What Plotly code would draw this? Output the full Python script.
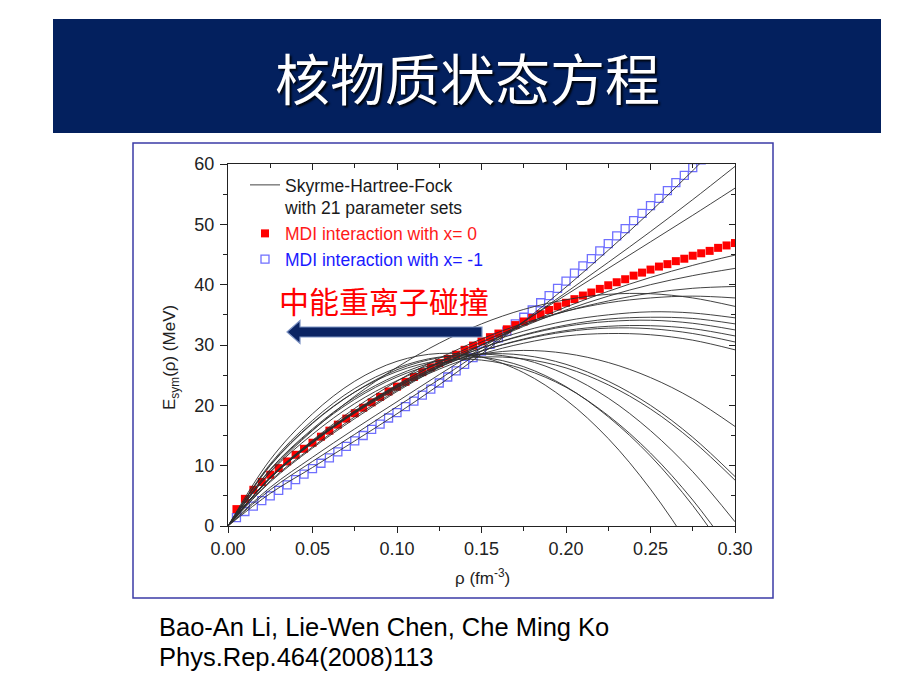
import plotly.graph_objects as go

# ---------------- data ----------------
rho_grid = [0.000, 0.025, 0.050, 0.075, 0.100, 0.125, 0.150, 0.175, 0.200, 0.225, 0.250, 0.275, 0.300]

shf_01 = [0, 5.4, 9.7, 14.1, 18.6, 23.4, 28.5, 33.9, 39.6, 45.7, 52.1, 58.9, 66.0]
shf_02 = [0, 6.0, 10.7, 15.2, 19.8, 24.3, 29.0, 33.8, 38.7, 43.7, 48.8, 54.1, 59.6]
shf_03 = [0, 6.4, 11.4, 16.1, 20.6, 25.1, 29.5, 33.9, 38.3, 42.7, 47.1, 51.5, 56.0]
shf_04 = [0, 7.3, 12.9, 17.8, 22.3, 26.3, 30.0, 33.3, 36.3, 38.9, 41.2, 43.2, 44.9]
shf_05 = [0, 7.5, 13.1, 18.1, 22.5, 26.5, 30.0, 33.1, 35.8, 38.1, 40.0, 41.5, 42.7]
shf_06 = [0, 7.9, 13.8, 18.9, 23.3, 27.2, 30.5, 33.3, 35.6, 37.3, 38.6, 39.4, 39.7]
shf_07 = [0, 8.1, 14.2, 19.5, 24.0, 27.8, 31.0, 33.6, 35.6, 37.0, 37.8, 38.1, 37.8]
shf_08 = [0, 9.0, 15.8, 21.5, 26.3, 30.3, 33.5, 35.9, 37.5, 38.4, 38.5, 37.8, 36.4]
shf_09 = [0, 8.1, 14.1, 19.1, 23.4, 27.1, 30.0, 32.3, 34.0, 35.0, 35.5, 35.3, 34.5]
shf_10 = [0, 8.0, 13.9, 18.9, 23.1, 26.6, 29.5, 31.7, 33.3, 34.3, 34.6, 34.4, 33.5]
shf_11 = [0, 8.0, 14.0, 19.0, 23.2, 26.7, 29.5, 31.6, 33.1, 33.9, 34.1, 33.6, 32.5]
shf_12 = [0, 8.0, 13.8, 18.8, 22.9, 26.3, 29.0, 31.0, 32.4, 33.1, 33.2, 32.7, 31.5]
shf_13 = [0, 8.0, 13.9, 18.9, 23.0, 26.4, 29.0, 30.9, 32.2, 32.8, 32.7, 31.9, 30.5]
shf_14 = [0, 8.0, 13.8, 18.7, 22.7, 26.0, 28.5, 30.3, 31.5, 31.9, 31.7, 30.8, 29.2]
shf_15 = [0, 8.9, 15.2, 20.3, 24.1, 26.9, 28.5, 29.1, 28.6, 27.1, 24.6, 21.1, 16.5]
shf_16 = [0, 9.4, 16.1, 21.3, 25.0, 27.4, 28.5, 28.3, 26.8, 24.0, 20.0, 14.7, 8.2]
shf_17 = [0, 9.3, 15.9, 21.0, 24.7, 27.0, 28.0, 27.7, 26.2, 23.4, 19.4, 14.1, 7.6]
shf_18 = [0, 10.0, 17.0, 22.2, 25.9, 27.9, 28.5, 27.6, 25.1, 21.2, 15.8, 9.0, 0.7]
shf_19 = [0, 11.0, 18.6, 24.0, 27.3, 28.6, 28.0, 25.4, 20.9, 14.5, 6.1, -4.2, -16.4]
shf_20 = [0, 10.3, 17.5, 22.8, 26.2, 28.0, 28.0, 26.4, 23.1, 18.1, 11.6, 3.4, -6.5]
shf_21 = [0, 10.1, 17.1, 22.2, 25.6, 27.4, 27.5, 26.0, 23.0, 18.3, 12.1, 4.3, -5.1]

rho_mdi = [0.005, 0.010, 0.015, 0.020, 0.025, 0.030, 0.035, 0.040, 0.045, 0.050,
           0.055, 0.060, 0.065, 0.070, 0.075, 0.080, 0.085, 0.090, 0.095, 0.100,
           0.105, 0.110, 0.115, 0.120, 0.125, 0.130, 0.135, 0.140, 0.145, 0.150,
           0.155, 0.160, 0.165, 0.170, 0.175, 0.180, 0.185, 0.190, 0.195, 0.200,
           0.205, 0.210, 0.215, 0.220, 0.225, 0.230, 0.235, 0.240, 0.245, 0.250,
           0.255, 0.260, 0.265, 0.270, 0.275, 0.280, 0.285, 0.290, 0.295, 0.300]

esym_mdi_x0 = [2.8, 4.5, 6.0, 7.3, 8.5, 9.6, 10.7, 11.8, 12.8, 13.8,
               14.8, 15.8, 16.8, 17.8, 18.7, 19.6, 20.5, 21.4, 22.3, 23.1,
               23.9, 24.7, 25.5, 26.3, 27.0, 27.7, 28.4, 29.2, 29.9, 30.6,
               31.3, 31.9, 32.6, 33.3, 33.9, 34.5, 35.1, 35.8, 36.4, 37.0,
               37.6, 38.2, 38.7, 39.3, 39.9, 40.4, 40.9, 41.5, 42.0, 42.5,
               43.0, 43.4, 43.9, 44.3, 44.8, 45.2, 45.6, 46.1, 46.5, 46.9]

esym_mdi_xm1 = [1.4, 2.4, 3.3, 4.2, 5.0, 5.9, 6.8, 7.7, 8.6, 9.5,
                10.4, 11.3, 12.3, 13.2, 14.1, 15.0, 16.0, 16.9, 17.9, 18.8,
                19.8, 20.7, 21.7, 22.7, 23.7, 24.7, 25.7, 26.8, 27.9, 29.0,
                30.1, 31.2, 32.3, 33.5, 34.6, 35.8, 37.0, 38.2, 39.4, 40.6,
                41.9, 43.1, 44.3, 45.6, 46.8, 48.1, 49.3, 50.6, 51.8, 53.1,
                54.3, 55.6, 56.9, 58.1, 59.4, 60.7]

x_tickvals = [0.00, 0.05, 0.10, 0.15, 0.20, 0.25, 0.30]
x_ticktext = ["0.00", "0.05", "0.10", "0.15", "0.20", "0.25", "0.30"]
y_tickvals = [0, 10, 20, 30, 40, 50, 60]
y_ticktext = ["0", "10", "20", "30", "40", "50", "60"]

shf_sets = [shf_01, shf_02, shf_03, shf_04, shf_05, shf_06, shf_07, shf_08, shf_09, shf_10,
            shf_11, shf_12, shf_13, shf_14, shf_15, shf_16, shf_17, shf_18, shf_19, shf_20, shf_21]

# ---------------- layout helpers (pixel -> paper) ----------------
W, H = 920, 690
ML, MR, MT, MB = 228, 185, 164, 164
PW, PH = W - ML - MR, H - MT - MB


def px(x):
    return (x - ML) / PW


def py(y):
    return (H - MB - y) / PH


FONT = "Liberation Sans, Arial, sans-serif"
CJK = "Noto Sans CJK SC, sans-serif"
AXC = "#222222"

fig = go.Figure()

fig.add_trace(go.Scatter(
    x=rho_mdi[:len(esym_mdi_xm1)], y=esym_mdi_xm1, mode="markers",
    marker=dict(symbol="square-open", size=8, color="#6f6fff", line=dict(width=1.3)),
    name="<span style='color:#1a1aff'>MDI interaction with x= -1</span>",
    legendrank=3))

fig.add_trace(go.Scatter(
    x=rho_mdi, y=esym_mdi_x0, mode="markers",
    marker=dict(symbol="square", size=8, color="#ff0000", line=dict(width=0)),
    name="<span style='color:#ff1a1a'>MDI interaction with x= 0</span>",
    legendrank=2))

for i, ys in enumerate(shf_sets):
    fig.add_trace(go.Scatter(
        x=rho_grid, y=ys, mode="lines",
        line=dict(color="#2e2e2e", width=0.9, shape="spline", smoothing=1.0),
        name="Skyrme-Hartree-Fock<br>with 21 parameter sets",
        legendgroup="shf", showlegend=(i == 0), legendrank=1))

# dummy trace to activate mirrored axes (inside ticks on top/right)
fig.add_trace(go.Scatter(x=[None], y=[None], xaxis="x2", yaxis="y2",
                         showlegend=False, hoverinfo="skip"))

axis_common = dict(showgrid=False, zeroline=False, showline=True, linecolor=AXC,
                   linewidth=1.2, tickcolor=AXC, tickwidth=1.2)

fig.update_layout(
    width=W, height=H,
    margin=dict(l=ML, r=MR, t=MT, b=MB, pad=0),
    paper_bgcolor="white", plot_bgcolor="white",
    showlegend=True,
    xaxis=dict(range=[0, 0.3], ticks="outside", ticklen=6,
               tickvals=x_tickvals, ticktext=x_ticktext,
               tickfont=dict(family=FONT, size=18, color=AXC),
               minor=dict(ticks="outside", ticklen=3.5, tickwidth=1, tickcolor=AXC,
                          tick0=0, dtick=0.025, showgrid=False),
               **axis_common),
    yaxis=dict(range=[0, 60], ticks="outside", ticklen=7,
               tickvals=y_tickvals, ticktext=y_ticktext, ticklabelstandoff=2,
               tickfont=dict(family=FONT, size=18, color=AXC),
               minor=dict(ticks="outside", ticklen=3.5, tickwidth=1, tickcolor=AXC,
                          tick0=0, dtick=5, showgrid=False),
               **axis_common),
    xaxis2=dict(range=[0, 0.3], overlaying="x", side="top", anchor="y2",
                ticks="inside", ticklen=6, showticklabels=False, tickvals=x_tickvals,
                minor=dict(ticks="inside", ticklen=3.5, tickwidth=1, tickcolor=AXC,
                           tick0=0, dtick=0.025, showgrid=False),
                **axis_common),
    yaxis2=dict(range=[0, 60], overlaying="y", side="right", anchor="x2",
                ticks="inside", ticklen=6, showticklabels=False, tickvals=y_tickvals,
                minor=dict(ticks="inside", ticklen=3.5, tickwidth=1, tickcolor=AXC,
                           tick0=0, dtick=5, showgrid=False),
                **axis_common),
    legend=dict(x=px(245), y=py(167), xanchor="left", yanchor="top",
                bgcolor="rgba(0,0,0,0)", borderwidth=0, valign="top",
                font=dict(family=FONT, size=17.5, color="#1a1a1a"),
                tracegroupgap=0, itemclick=False),
)

shapes = [
    # title bar
    dict(type="rect", xref="paper", yref="paper", layer="below",
         x0=px(53), x1=px(881), y0=py(133), y1=py(19),
         fillcolor="#03205e", line=dict(width=0)),
    # picture frame
    dict(type="rect", xref="paper", yref="paper", layer="below",
         x0=px(133), x1=px(773), y0=py(598), y1=py(143),
         fillcolor="rgba(0,0,0,0)", line=dict(color="#3b3ba6", width=1.5)),
]
# left-pointing block arrow
ax_pts = [(287, 332), (300, 320.5), (300, 327), (482, 327), (482, 337),
          (300, 337), (300, 343.5)]
path = "M " + " L ".join(f"{px(a):.5f},{py(b):.5f}" for a, b in ax_pts) + " Z"
shapes.append(dict(type="path", xref="paper", yref="paper", path=path,
                   fillcolor="#0b2463", line=dict(color="#7d93c4", width=1.2)))
fig.update_layout(shapes=shapes)

ann = [
    dict(text="核物质状态方程", x=px(467), y=py(76), xref="paper", yref="paper",
         showarrow=False, xanchor="center", yanchor="middle",
         font=dict(family=CJK, size=55, color="white",
                   shadow="2px 2px 2px rgba(0,0,0,0.85)")),
    dict(text="中能重离子碰撞", x=px(384), y=py(300), xref="paper", yref="paper",
         showarrow=False, xanchor="center", yanchor="middle",
         font=dict(family=CJK, size=30, color="#ff0000")),
    dict(text="E<sub>sym</sub>(ρ) (MeV)", x=px(171), y=py(358), xref="paper", yref="paper",
         showarrow=False, textangle=-90, xanchor="center", yanchor="middle",
         font=dict(family=FONT, size=17, color=AXC)),
    dict(text="ρ (fm<sup>-3</sup>)", x=px(482), y=py(577), xref="paper", yref="paper",
         showarrow=False, xanchor="center", yanchor="middle",
         font=dict(family=FONT, size=17, color=AXC)),
    dict(text="Bao-An Li, Lie-Wen Chen, Che Ming Ko", x=px(157), y=py(627),
         xref="paper", yref="paper", showarrow=False, xanchor="left", yanchor="middle",
         font=dict(family=FONT, size=25.5, color="black")),
    dict(text="Phys.Rep.464(2008)113", x=px(157), y=py(657),
         xref="paper", yref="paper", showarrow=False, xanchor="left", yanchor="middle",
         font=dict(family=FONT, size=25.5, color="black")),
]
fig.update_layout(annotations=ann)

fig.write_html("out.html")
